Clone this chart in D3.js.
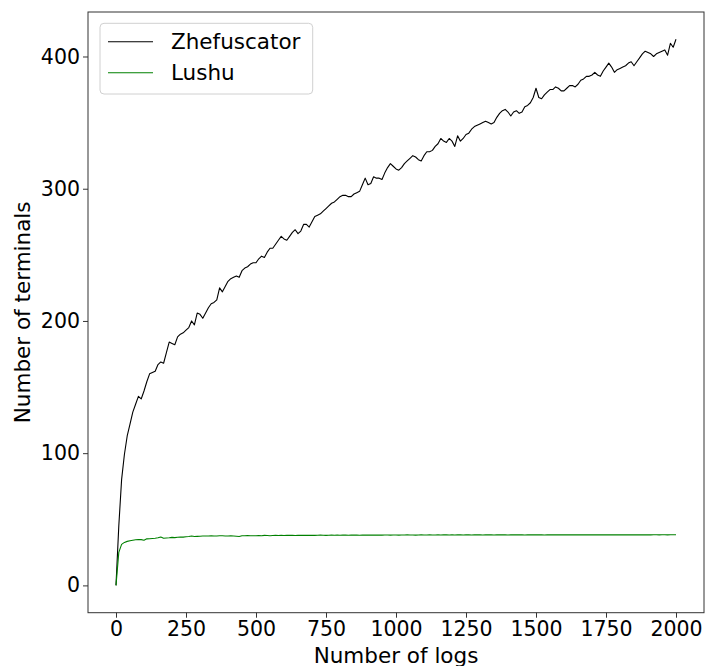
<!DOCTYPE html>
<html>
<head>
<meta charset="utf-8">
<script src="https://cdn.jsdelivr.net/npm/d3@7"></script>
<style>
  body { margin: 0; background: #fff; }
  text { font-family: "DejaVu Sans", sans-serif; fill: #000; }
</style>
</head>
<body>
<div id="chart"></div>
<script>

// x positions: one sample every 10 logs
var logs = d3.range(0, 2001, 10);

var zhefuscator = [
    0,  45,  80,  99, 113, 122, 131, 137, 143, 141,
  147, 154, 160, 161, 162, 167, 169, 168, 176, 184,
  183, 182, 188, 190, 191, 193, 195, 200, 197, 206,
  205, 202, 206, 210, 213, 214, 216, 225, 222, 226,
  230, 232, 233, 234, 233, 238, 240, 241, 243, 244,
  244, 247, 249, 248, 252, 255, 255, 258, 261, 264,
  262, 261, 264, 267, 269, 266, 268, 273, 273, 271,
  275, 279, 280, 281, 283, 285, 287, 289, 290, 292,
  294, 295, 295, 294, 294, 296, 297, 298, 303, 308,
  303, 304, 309, 308, 308, 307, 312, 316, 319, 317,
  315, 314, 316, 319, 321, 323, 325, 324, 322, 321,
  325, 328, 328, 329, 332, 334, 338, 336, 335, 338,
  336, 332, 340, 336, 338, 341, 342, 345, 347, 348,
  349, 350, 351, 350, 349, 350, 354, 357, 359, 360,
  358, 355, 358, 359, 357, 358, 362, 363, 365, 369,
  376, 369, 368, 371, 373, 375, 375, 377, 376, 374,
  374, 376, 378, 378, 377, 379, 382, 383, 385, 385,
  386, 388, 386, 385, 389, 392, 395, 392, 388, 390,
  391, 392, 393, 395, 396, 393, 396, 399, 402, 404,
  403, 402, 400, 402, 403, 404, 405, 401, 410, 407,
  413
];

var lushu = [
  0.0, 25.0, 31.0, 32.5, 33.3, 33.8, 34.2, 34.5, 34.7, 34.6,
  34.2, 35.2, 35.3, 35.5, 35.6, 36.0, 36.6, 35.6, 35.8, 36.0,
  36.3, 36.1, 36.4, 36.6, 36.5, 36.8, 37.0, 37.3, 37.0, 37.1,
  37.2, 37.4, 37.3, 37.4, 37.5, 37.3, 37.4, 37.6, 37.5, 37.4,
  37.3, 37.5, 37.4, 37.2, 37.0, 37.5, 37.6, 37.7, 37.6, 37.5,
  37.6, 37.7, 37.6, 37.8, 37.7, 37.6, 37.7, 37.8, 37.7, 37.8,
  37.7, 37.8, 37.9, 37.8, 37.7, 37.8, 37.9, 37.8, 37.9, 37.8,
  37.9, 37.8, 37.9, 38.0, 37.9, 37.8, 37.9, 38.0, 37.9, 38.0,
  37.9, 38.0, 38.0, 37.9, 38.0, 38.1, 38.0, 37.9, 38.0, 38.1,
  38.0, 38.1, 38.0, 38.0, 38.1, 38.0, 38.1, 38.1, 38.0, 38.1,
  38.1, 38.0, 38.1, 38.1, 38.2, 38.1, 38.1, 38.0, 38.1, 38.2,
  38.1, 38.1, 38.2, 38.1, 38.1, 38.2, 38.1, 38.2, 38.2, 38.1,
  38.2, 38.1, 38.2, 38.2, 38.1, 38.2, 38.2, 38.1, 38.2, 38.2,
  38.2, 38.1, 38.2, 38.2, 38.2, 38.1, 38.2, 38.2, 38.2, 38.2,
  38.1, 38.2, 38.2, 38.2, 38.2, 38.2, 38.1, 38.2, 38.2, 38.2,
  38.2, 38.2, 38.2, 38.1, 38.2, 38.2, 38.2, 38.2, 38.2, 38.2,
  38.2, 38.3, 38.2, 38.2, 38.2, 38.2, 38.3, 38.2, 38.2, 38.2,
  38.3, 38.2, 38.2, 38.2, 38.3, 38.2, 38.2, 38.3, 38.2, 38.2,
  38.3, 38.2, 38.2, 38.3, 38.2, 38.3, 38.2, 38.2, 38.3, 38.2,
  38.3, 38.2, 38.3, 38.3, 38.2, 38.3, 38.3, 38.2, 38.3, 38.3,
  38.3
];

var xTicks = [0, 250, 500, 750, 1000, 1250, 1500, 1750, 2000];
var yTicks = [0, 100, 200, 300, 400];

var seriesNames = ["Zhefuscator", "Lushu"];
var seriesColors = ["#000000", "#008000"];

// set the dimensions and margins of the graph
var W = 705, H = 666;
var margin = {top: 12, right: 1, bottom: 53.3, left: 88},
    width = W - margin.left - margin.right,
    height = H - margin.top - margin.bottom;

var svg = d3.select("#chart").append("svg")
    .attr("width", W)
    .attr("height", H)
  .append("g")
    .attr("transform", "translate(" + margin.left + "," + margin.top + ")");

// set the ranges (matplotlib style 5% padding)
var x = d3.scaleLinear().domain([-100, 2100]).range([0, width]);
var y = d3.scaleLinear().domain([-20.65, 433.65]).range([height, 0]);

// lines
var line = d3.line()
    .x(function(d) { return x(d[0]); })
    .y(function(d) { return y(d[1]); });

var series = [zhefuscator, lushu];
series.forEach(function(vals, i) {
  svg.append("path")
      .datum(logs.map(function(l, j) { return [l, vals[j]]; }))
      .attr("fill", "none")
      .attr("stroke", seriesColors[i])
      .attr("stroke-width", 1.1)
      .attr("stroke-linejoin", "round")
      .attr("d", line);
});

// frame
svg.append("rect")
    .attr("width", width)
    .attr("height", height)
    .attr("fill", "none")
    .attr("stroke", "#333")
    .attr("stroke-width", 1);

// add the x Axis
var gx = svg.append("g")
    .attr("transform", "translate(0," + height + ")")
    .call(d3.axisBottom(x).tickValues(xTicks).tickSize(5).tickPadding(4).tickFormat(d3.format("d")));

// add the y Axis
var gy = svg.append("g")
    .call(d3.axisLeft(y).tickValues(yTicks).tickSize(5).tickPadding(3).tickFormat(d3.format("d")));

[gx, gy].forEach(function(g) {
  g.select(".domain").remove();
  g.selectAll(".tick line").attr("stroke", "#333");
  g.selectAll(".tick text")
      .attr("fill", "#000")
      .style("font-family", "DejaVu Sans, sans-serif")
      .style("font-size", "20.5px");
});

// axis labels
svg.append("text")
    .attr("x", width / 2)
    .attr("y", height + 50)
    .attr("text-anchor", "middle")
    .style("font-size", "21.5px")
    .text("Number of logs");

svg.append("text")
    .attr("transform", "translate(" + (-58.5) + "," + (height / 2) + ") rotate(-90)")
    .attr("text-anchor", "middle")
    .style("font-size", "21.5px")
    .text("Number of terminals");

// legend
var legend = svg.append("g").attr("transform", "translate(12,11.3)");
legend.append("rect")
    .attr("width", 212.7)
    .attr("height", 70.7)
    .attr("rx", 4)
    .attr("fill", "#fff")
    .attr("fill-opacity", 0.8)
    .attr("stroke", "#d0d0d0");

seriesNames.forEach(function(name, i) {
  var ly = 18.4 + i * 31;
  legend.append("line")
      .attr("x1", 8).attr("x2", 53)
      .attr("y1", ly).attr("y2", ly)
      .attr("stroke", seriesColors[i])
      .attr("stroke-width", 1.1);
  legend.append("text")
      .attr("x", 71)
      .attr("y", ly)
      .attr("dy", "0.36em")
      .style("font-size", "21.5px")
      .text(name);
});

</script>
</body>
</html>
